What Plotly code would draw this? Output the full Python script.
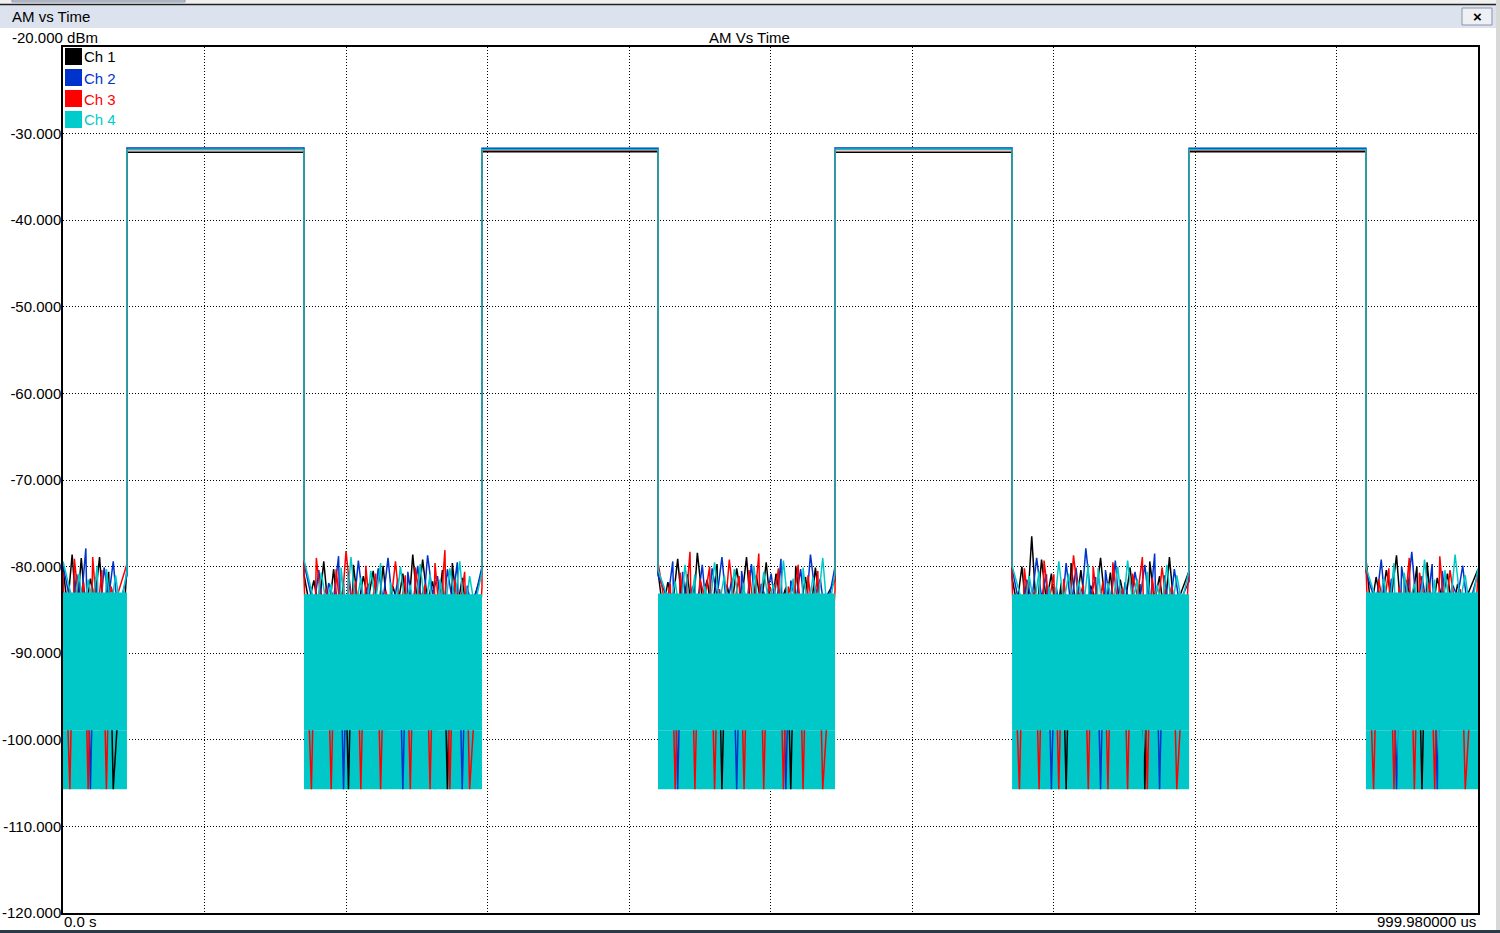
import numpy as np
import plotly.graph_objects as go

# pulse timing (us)
on_start = [45.2, 296.1, 545.6, 795.8]
on_stop = [170.3, 420.5, 670.7, 920.8]
t_end = 999.98

# plateau level per pulse (dBm)
ch1_on = [-32.15, -32.1, -32.15, -32.1]
ch2_on = [-31.65, -31.7, -31.65, -31.7]
ch3_on = [-31.85, -31.9, -31.85, -31.9]
ch4_on = [-31.85, -31.85, -31.8, -31.85]

# noise peaks / dips for each off segment (dBm)
ch1_peaks = [
    [-80.2, -78.6, -79.0, -81.4, -78.9, -80.6, -80.0],
    [-80.9, -81.6, -79.4, -80.3, -82.0, -79.8, -81.1, -80.5, -79.9, -82.3, -80.8, -78.6, -79.2, -81.7, -80.4, -79.6, -81.3, -80.7],
    [-80.6, -81.8, -79.1, -80.9, -78.4, -81.5, -79.7, -82.1, -80.2, -78.9, -81.0, -79.5, -80.8, -82.4, -79.9, -81.2, -80.1, -81.6],
    [-81.3, -80.0, -76.5, -79.2, -80.8, -81.9, -79.6, -80.4, -82.2, -79.0, -80.7, -81.5, -80.1, -82.0, -79.4, -81.1, -78.9, -80.5],
    [-79.1, -81.2, -80.4, -78.7, -81.6, -80.0, -79.5, -81.3, -80.8, -82.0, -80.3],
]
ch1_dips = [
    [-84.6, -85.7, -85.2, -83.9, -86.0, -105.7],
    [-84.1, -85.0, -85.5, -86.2, -105.7, -84.7, -83.8, -85.6, -85.9, -84.4, -86.5, -84.8, -84.0, -85.3, -105.7, -84.9, -86.1],
    [-85.1, -84.2, -85.4, -86.4, -83.7, -85.8, -105.7, -84.5, -83.9, -86.0, -84.6, -85.3, -84.2, -105.7, -84.7, -85.9, -84.8],
    [-84.4, -85.9, -85.7, -84.1, -86.3, -105.7, -84.9, -85.2, -83.8, -84.8, -86.6, -84.3, -85.5, -105.7, -84.0, -86.0, -85.1],
    [-85.0, -84.5, -83.6, -86.2, -84.4, -105.7, -85.8, -83.9, -85.3, -84.6],
]
ch2_peaks = [
    [-79.8, -80.9, -77.9, -81.2, -80.1, -79.4, -81.0],
    [-79.6, -80.4, -81.9, -78.8, -80.7, -79.3, -82.0, -80.2, -79.0, -81.4, -80.6, -79.9, -78.7, -81.1, -80.3, -79.5, -82.2, -80.0],
    [-81.0, -79.4, -80.6, -82.3, -79.8, -80.2, -78.9, -81.3, -80.5, -79.7, -82.0, -80.8, -79.1, -81.6, -80.3, -78.6, -81.4, -80.0],
    [-80.2, -81.5, -79.0, -80.9, -82.4, -79.6, -80.1, -77.9, -81.2, -80.4, -79.3, -81.8, -80.6, -79.8, -78.5, -81.0, -80.3, -81.7],
    [-80.6, -79.2, -81.4, -80.0, -78.3, -81.1, -79.7, -80.5, -82.1, -79.9, -80.8],
]
ch2_dips = [
    [-85.2, -84.1, -105.7, -86.0, -83.6, -85.5],
    [-84.8, -86.1, -83.7, -105.7, -85.4, -84.2, -86.5, -83.9, -85.0, -105.7, -84.6, -85.8, -83.2, -86.3, -84.0, -105.7, -85.1],
    [-83.8, -105.7, -85.6, -84.3, -86.2, -83.5, -85.0, -105.7, -84.7, -86.4, -83.9, -85.3, -105.7, -84.1, -85.7, -83.3, -86.0],
    [-85.9, -84.0, -83.6, -105.7, -86.1, -84.8, -85.2, -83.4, -105.7, -84.5, -86.3, -85.0, -83.8, -84.9, -105.7, -85.6, -84.2],
    [-84.3, -86.0, -105.7, -83.7, -85.4, -84.8, -105.7, -86.2, -83.5, -85.1],
]
ch3_peaks = [
    [-80.6, -79.1, -81.8, -78.9, -80.4, -82.3, -79.7],
    [-81.2, -79.0, -82.5, -80.3, -78.2, -81.7, -79.9, -80.8, -82.8, -79.4, -81.0, -80.1, -82.1, -79.6, -78.1, -81.5, -80.6, -82.4],
    [-79.5, -82.0, -80.7, -78.3, -81.4, -80.0, -82.6, -79.2, -81.1, -80.4, -78.5, -81.9, -80.2, -82.3, -79.8, -81.0, -80.5, -82.7],
    [-81.6, -80.2, -82.9, -79.3, -80.9, -81.4, -78.7, -82.1, -80.0, -81.7, -79.5, -82.5, -80.8, -78.9, -81.3, -80.1, -82.2, -79.9],
    [-79.8, -81.5, -80.2, -82.4, -79.0, -80.7, -81.9, -78.8, -80.4, -82.6, -80.9],
]
ch3_dips = [
    [-105.7, -84.5, -105.7, -85.8, -105.7, -84.0],
    [-105.7, -84.3, -105.7, -85.9, -83.8, -105.7, -86.1, -105.7, -84.6, -85.3, -105.7, -83.9, -105.7, -86.2, -105.7, -84.8, -105.7],
    [-84.7, -105.7, -85.5, -105.7, -83.6, -105.7, -86.0, -84.4, -105.7, -85.1, -105.7, -83.9, -105.7, -84.2, -105.7, -85.7, -105.7],
    [-105.7, -85.0, -105.7, -84.1, -105.7, -86.4, -83.7, -105.7, -85.2, -105.7, -84.6, -105.7, -83.5, -105.7, -85.9, -84.3, -105.7],
    [-105.7, -84.9, -105.7, -85.6, -105.7, -83.8, -105.7, -86.1, -84.4, -105.7],
]
ch4_peaks = [
    [-79.4, -80.8, -81.5, -79.9, -80.3, -81.0, -80.6],
    [-79.2, -80.7, -82.0, -80.1, -78.9, -81.3, -80.5, -79.6, -81.8, -80.0, -82.1, -79.7, -80.9, -81.5, -80.2, -79.4, -81.1, -80.6],
    [-80.4, -81.7, -79.8, -80.9, -82.2, -79.5, -81.0, -80.3, -81.9, -79.9, -80.6, -82.0, -79.3, -81.4, -80.1, -81.2, -79.0, -80.7],
    [-79.9, -81.1, -80.5, -82.3, -79.4, -80.8, -81.6, -79.7, -80.2, -81.9, -80.0, -79.3, -81.4, -80.6, -82.1, -79.8, -81.0, -80.4],
    [-80.1, -81.3, -79.6, -80.7, -82.0, -79.2, -81.5, -80.4, -78.6, -81.0, -80.2],
]
ch4_dips = [
    [-84.8, -85.5, -84.2, -105.7, -85.0, -84.6],
    [-85.1, -84.3, -105.7, -85.6, -84.7, -85.9, -84.0, -105.7, -85.3, -84.5, -86.0, -84.9, -105.7, -85.2, -84.1, -85.7, -84.6],
    [-84.4, -85.8, -84.9, -105.7, -85.1, -84.2, -86.1, -84.7, -105.7, -85.4, -84.0, -85.6, -84.8, -105.7, -85.3, -84.5, -85.9],
    [-85.0, -84.6, -105.7, -85.7, -84.3, -85.2, -84.9, -105.7, -86.0, -84.4, -85.5, -84.1, -105.7, -85.8, -84.7, -85.1, -84.2],
    [-84.7, -85.4, -105.7, -84.3, -85.9, -84.8, -105.7, -85.2, -84.0, -85.6],
]

# Ch 4 dense noise band (top / bottom of the solid cyan block) per off segment
ch4_band_hi = [-83.0, -83.2, -83.1, -83.2, -83.0]
ch4_band_lo = [-98.9, -98.9, -98.9, -98.9, -98.9]
noise_floor = -105.7

ch_names = ["Ch 1", "Ch 2", "Ch 3", "Ch 4"]
ch_colors = ["#000000", "#0033cc", "#ff0000", "#00c8c8"]
legend_text_colors = ["#000000", "#0033cc", "#ff0000", "#00cccc"]
# sampling phase of each channel, in samples
ch_phase = [0.0, 1.0, 0.5, 1.5]

off_start = [0.0] + on_stop
off_end = on_start + [t_end]


def build_trace(peaks, dips, on_lvl, phase):
    xs, ys = [], []
    for k in range(5):
        vals = []
        for i, p in enumerate(peaks[k]):
            vals.append(p)
            if i < len(dips[k]):
                vals.append(dips[k][i])
        n = len(vals)
        step = (off_end[k] - off_start[k]) / (n + 1)
        t = [off_start[k] + (i + phase) * step for i in range(n)]
        t[0], t[-1] = off_start[k], off_end[k]  # edges stay vertical
        xs += t
        ys += vals
        if k < 4:
            xs += [on_start[k], on_stop[k]]
            ys += [on_lvl[k], on_lvl[k]]
    return xs, ys


def band(hi, lo):
    xs, ys = [], []
    for k in range(5):
        xs += [off_start[k], off_end[k], off_end[k], off_start[k], off_start[k], None]
        ys += [hi[k], hi[k], lo[k], lo[k], hi[k], None]
    return xs, ys


fig = go.Figure()

# lower part of cyan noise block sits under the other channels
bx, by = band(ch4_band_lo, [noise_floor] * 5)
fig.add_trace(go.Scatter(x=bx, y=by, fill="toself", fillcolor=ch_colors[3], mode="lines",
                         line=dict(width=0), hoverinfo="skip"))

for name, col, pk, dp, lvl, ph in zip(ch_names[:3], ch_colors[:3], [ch1_peaks, ch2_peaks, ch3_peaks],
                                      [ch1_dips, ch2_dips, ch3_dips], [ch1_on, ch2_on, ch3_on], ch_phase):
    x, y = build_trace(pk, dp, lvl, ph)
    fig.add_trace(go.Scatter(x=x, y=y, name=name, mode="lines", line=dict(color=col, width=1.5)))

bx, by = band(ch4_band_hi, ch4_band_lo)
fig.add_trace(go.Scatter(x=bx, y=by, fill="toself", fillcolor=ch_colors[3], mode="lines",
                         line=dict(width=0), hoverinfo="skip"))
x, y = build_trace(ch4_peaks, ch4_dips, ch4_on, ch_phase[3])
fig.add_trace(go.Scatter(x=x, y=y, name="Ch 4", mode="lines", line=dict(color=ch_colors[3], width=1.5)))


# pixel -> paper helpers (plot area is x 63..1478, y 47..913)
def fx(px):
    return (px - 63) / 1415


def fy(py):
    return (913 - py) / 866


font = dict(family="Liberation Sans, Arial, sans-serif", size=15, color="black")
shapes = [
    dict(type="rect", xref="paper", yref="paper", x0=fx(0), x1=fx(1500), y0=fy(0), y1=fy(4.5),
         fillcolor="#f0f0f0", line=dict(width=0), layer="below"),
    dict(type="rect", xref="paper", yref="paper", x0=fx(12), x1=fx(185), y0=fy(0), y1=fy(2),
         fillcolor="#cdd5e2", line=dict(color="#8a94a8", width=1)),
    dict(type="rect", xref="paper", yref="paper", x0=fx(0), x1=fx(1496), y0=fy(5), y1=fy(28),
         fillcolor="#dce3ee", line=dict(width=0), layer="below"),
    dict(type="line", xref="paper", yref="paper", x0=fx(0), x1=fx(1496), y0=fy(4.5), y1=fy(4.5),
         line=dict(color="#222222", width=1.5)),
    dict(type="rect", xref="paper", yref="paper", x0=fx(1462), x1=fx(1492), y0=fy(8), y1=fy(25),
         fillcolor="#eef0f4", line=dict(color="#8a94a8", width=1)),
    dict(type="rect", xref="paper", yref="paper", x0=fx(1496), x1=fx(1500), y0=fy(0), y1=fy(933),
         fillcolor="#d8d8d8", line=dict(width=0)),
    dict(type="rect", xref="paper", yref="paper", x0=fx(0), x1=fx(1500), y0=fy(930), y1=fy(933),
         fillcolor="#2b3b4c", line=dict(width=0)),
]
annotations = [
    dict(text="AM vs Time", x=fx(10), y=fy(16), xanchor="left", yanchor="middle"),
    dict(text="<b>×</b>", x=fx(1477), y=fy(16), xanchor="center", yanchor="middle"),
    dict(text="-20.000 dBm", x=fx(10), y=fy(38), xanchor="left", yanchor="middle"),
    dict(text="AM Vs Time", x=fx(749), y=fy(38), xanchor="center", yanchor="middle"),
    dict(text="0.0 s", x=fx(62), y=fy(921), xanchor="left", yanchor="middle"),
    dict(text="999.980000 us", x=fx(1478), y=fy(921), xanchor="right", yanchor="middle"),
]

# legend drawn as swatches + coloured labels
for i, (name, col, tcol) in enumerate(zip(ch_names, ch_colors, legend_text_colors)):
    top = 48 + 21 * i
    shapes.append(dict(type="rect", xref="paper", yref="paper", x0=fx(65), x1=fx(82),
                       y0=fy(top), y1=fy(top + 17), fillcolor=tcol, line=dict(width=0)))
    annotations.append(dict(text=name, x=fx(82), y=fy(top + 9), xanchor="left", yanchor="middle",
                            font=dict(family=font["family"], size=15, color=tcol)))

for a in annotations:
    a.update(xref="paper", yref="paper", showarrow=False)
    a.setdefault("font", font)

fig.update_layout(
    width=1500, height=933,
    margin=dict(l=63, r=22, t=47, b=20, autoexpand=False),
    plot_bgcolor="white", paper_bgcolor="white",
    showlegend=False,
    shapes=shapes, annotations=annotations,
    font=font,
)
fig.update_xaxes(range=[0, t_end], tickvals=[100, 200, 300, 400, 500, 600, 700, 800, 900],
                 showticklabels=False, ticks="", showgrid=True, gridcolor="black", gridwidth=1,
                 griddash="1px,2px", zeroline=False, showline=True, mirror=True,
                 linecolor="black", linewidth=1.5, automargin=False)
y_ticks = [-120, -110, -100, -90, -80, -70, -60, -50, -40, -30]
fig.update_yaxes(range=[-120, -20], tickvals=y_ticks, ticktext=["%.3f" % v for v in y_ticks],
                 ticks="", ticklabelstandoff=-3, showgrid=True, gridcolor="black", gridwidth=1,
                 griddash="1px,2px", zeroline=False, showline=True, mirror=True,
                 linecolor="black", linewidth=1.5, tickfont=font, automargin=False)

fig.write_html("out.html", config={"displayModeBar": False},
               post_script="document.body.style.margin='0';document.body.style.overflow='hidden';")
